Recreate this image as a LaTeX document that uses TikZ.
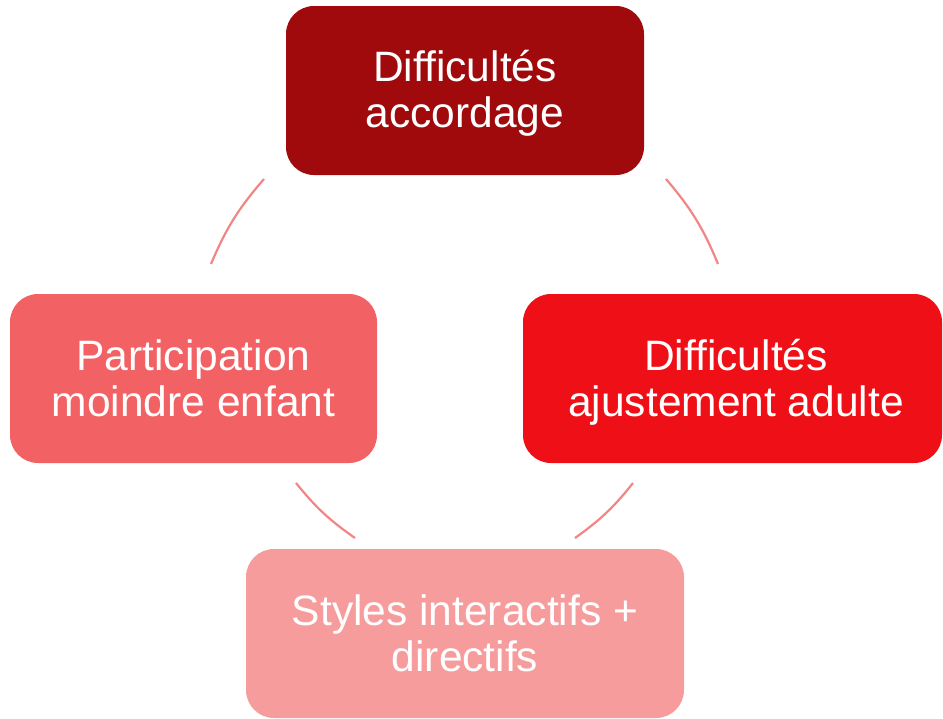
\documentclass[tikz,border=0pt]{standalone}
\usepackage{fontspec}
\setmainfont{Liberation Sans}
\definecolor{cA}{HTML}{A00A0C}
\definecolor{cB}{HTML}{EF1017}
\definecolor{cC}{HTML}{F26264}
\definecolor{cD}{HTML}{F79C9C}
\definecolor{arcc}{HTML}{F28686}
\tikzset{
  boxnode/.style={rectangle, rounded corners=28pt, inner sep=0pt, minimum height=169pt,
    text=white, align=center, font=\fontsize{42.5pt}{46pt}\selectfont},
  arcline/.style={draw=arcc, line width=2.2pt}
}
\begin{document}
\begin{tikzpicture}[x=1pt,y=-1pt]
\useasboundingbox (0,0) rectangle (943,718);
\node[boxnode, fill=cA, minimum width=358pt] (top) at (465,90.5) {};
\node[boxnode, fill=cB, minimum width=419pt] (right) at (732.5,378.5) {};
\node[boxnode, fill=cC, minimum width=367pt] (left) at (193.5,378.5) {};
\node[boxnode, fill=cD, minimum width=438pt] (bottom) at (465,633.5) {};
\node[boxnode] (ttop) at (465,93.5) {Difficultés\\accordage};
\node[boxnode] (tright) at (736,382) {Difficultés\\ajustement adulte};
\node[boxnode] (tleft) at (193.5,378.5) {Participation\\moindre enfant};
\node[boxnode] (tbottom) at (465,633.5) {Styles interactifs +\\directifs};
\coordinate (a1) at (211,264);
\coordinate (a2) at (264,179);
\coordinate (b1) at (666,179);
\coordinate (b2) at (718,264);
\coordinate (c1) at (633,483);
\coordinate (c2) at (575,538);
\coordinate (d1) at (355,538);
\coordinate (d2) at (296,483);
\draw[arcline] (a1) to[bend left=9] (a2);
\draw[arcline] (b1) to[bend left=9] (b2);
\draw[arcline] (c1) to[bend left=8] (c2);
\draw[arcline] (d1) to[bend left=8] (d2);
\end{tikzpicture}
\end{document}
